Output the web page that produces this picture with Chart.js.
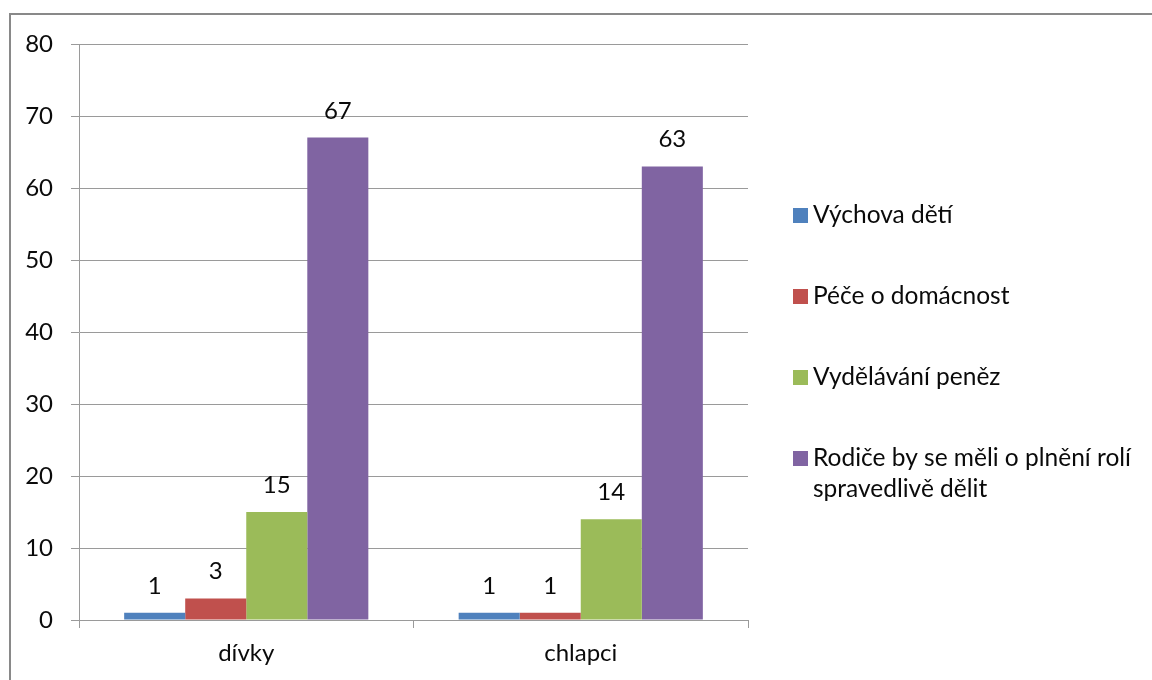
<!DOCTYPE html>
<html>
<head>
<meta charset="utf-8">
<script src="https://cdn.jsdelivr.net/npm/chart.js@4.4.1/dist/chart.umd.min.js"></script>
<style>
  html, body { margin: 0; padding: 0; background: #fff; }
  #wrap { position: relative; width: 1152px; height: 680px; }
  canvas { display: block; }
</style>
</head>
<body>
<div id="wrap"><canvas id="c" width="1152" height="680"></canvas></div>
<script>
// ---- data ----
const categories = ['dívky', 'chlapci'];
const seriesLabels = ['Výchova dětí', 'Péče o domácnost', 'Vydělávání peněz', 'Rodiče by se měli o plnění rolí\nspravedlivě dělit'];
const vychova = [1, 1];
const pece = [3, 1];
const vydelavani = [15, 14];
const spravedlive = [67, 63];
const yTicks = [0, 10, 20, 30, 40, 50, 60, 70, 80];
const seriesColors = ['#4F81BD', '#C0504D', '#9BBB59', '#8064A2'];

const FONT = 'Lato, "Open Sans", sans-serif';
const TEXT = '#0a0a0a';
const AXIS = '#9a9a9a';

const borderPlugin = {
  id: 'frame',
  beforeDraw(chart) {
    const ctx = chart.ctx;
    ctx.save();
    ctx.fillStyle = '#fff';
    ctx.fillRect(0, 0, chart.width, chart.height);
    ctx.strokeStyle = '#898989';
    ctx.lineWidth = 2;
    ctx.beginPath();
    ctx.moveTo(10, chart.height + 5);
    ctx.lineTo(10, 14);
    ctx.lineTo(chart.width + 5, 14);
    ctx.stroke();
    ctx.restore();
  }
};

const valueLabels = {
  id: 'valueLabels',
  afterDatasetsDraw(chart) {
    const ctx = chart.ctx;
    ctx.save();
    ctx.font = '24px ' + FONT;
    ctx.fillStyle = TEXT;
    ctx.textAlign = 'center';
    ctx.textBaseline = 'alphabetic';
    chart.data.datasets.forEach((ds, i) => {
      const meta = chart.getDatasetMeta(i);
      meta.data.forEach((el, j) => {
        ctx.fillText(String(ds.data[j]), el.x, el.y - 19);
      });
    });
    ctx.restore();
  }
};

const customLegend = {
  id: 'customLegend',
  afterDraw(chart) {
    const ctx = chart.ctx;
    ctx.save();
    ctx.font = '24.5px ' + FONT;
    ctx.textAlign = 'left';
    ctx.textBaseline = 'middle';
    const boxX = 793, box = 15, textX = 813;
    let y = 215;
    const step = 81, lineH = 31;
    chart.data.datasets.forEach((ds) => {
      ctx.fillStyle = ds.backgroundColor;
      ctx.fillRect(boxX, Math.round(y - box / 2), box, box);
      ctx.fillStyle = TEXT;
      const lines = ds.label.split('\n');
      lines.forEach((ln, k) => ctx.fillText(ln, textX, y + k * lineH));
      y += step;
    });
    ctx.restore();
  }
};

const datasets = [vychova, pece, vydelavani, spravedlive].map((d, i) => ({
  label: seriesLabels[i],
  data: d,
  backgroundColor: seriesColors[i],
  borderWidth: 0,
  categoryPercentage: 0.73,
  barPercentage: 1.0
}));

new Chart(document.getElementById('c'), {
  type: 'bar',
  data: { labels: categories, datasets },
  options: {
    responsive: false,
    animation: false,
    devicePixelRatio: 1,
    layout: { padding: { left: 0, top: 44, right: 404, bottom: 0 } },
    plugins: {
      legend: { display: false },
      tooltip: { enabled: false },
      title: { display: false }
    },
    scales: {
      x: {
        offset: true,
        grid: { display: true, drawOnChartArea: false, offset: true, color: AXIS, tickLength: 8, lineWidth: 1 },
        border: { display: true, color: AXIS, width: 1 },
        ticks: { color: TEXT, font: { family: FONT, size: 24 }, padding: 11 },
        afterFit(s) { s.height = 60; }
      },
      y: {
        min: 0, max: 80,
        afterBuildTicks(s) { s.ticks = yTicks.map(v => ({ value: v })); },
        grid: { color: AXIS, tickLength: 8, lineWidth: 1 },
        border: { display: true, color: AXIS, width: 1 },
        ticks: { color: TEXT, font: { family: FONT, size: 24 }, padding: 18 },
        afterFit(s) { s.width = 79; }
      }
    }
  },
  plugins: [borderPlugin, valueLabels, customLegend]
});
</script>
</body>
</html>
